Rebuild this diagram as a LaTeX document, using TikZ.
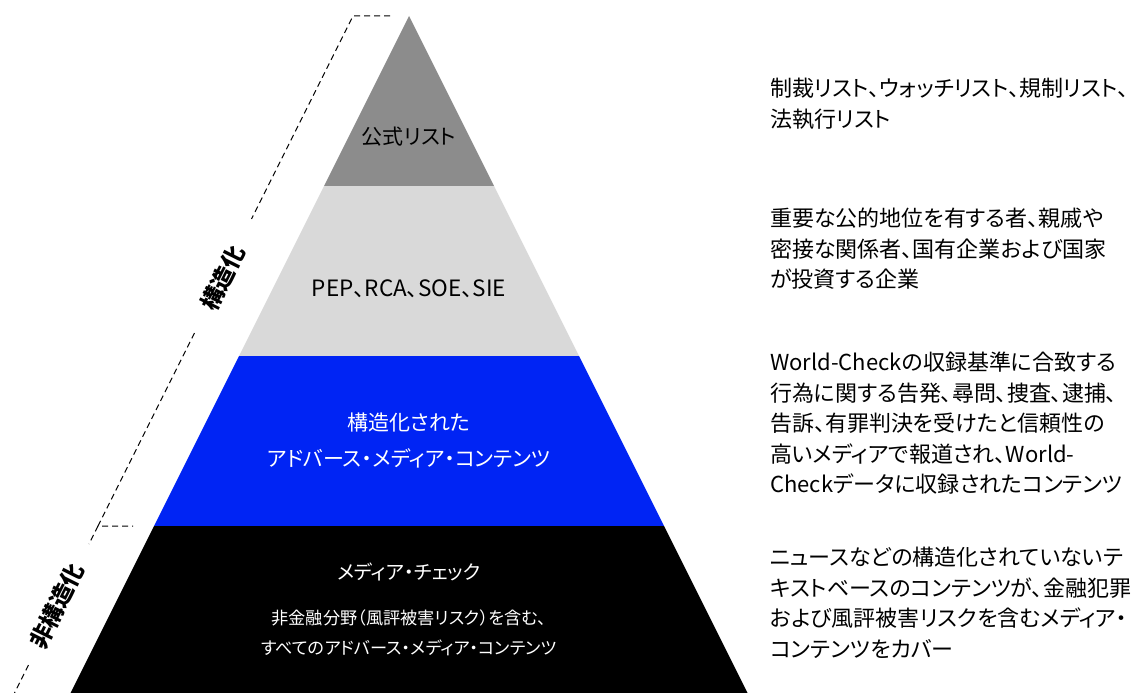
\documentclass[tikz,border=0pt]{standalone}
\usepackage{fontspec}
\setmainfont{Noto Sans CJK JP}[RawFeature={+palt}]
\definecolor{listgray}{HTML}{8C8C8C}
\definecolor{pepgray}{HTML}{D9D9D9}
\definecolor{mediablue}{HTML}{0024F4}
\begin{document}
\begin{tikzpicture}
  [x=1pt,y=-1pt,
   inner/.style={align=center,font=\fontsize{21}{36}\selectfont},
   note/.style={anchor=north west,align=left,inner sep=0pt,font=\fontsize{22}{30.5}\selectfont},
   guide/.style={line width=1pt,dash pattern=on 6pt off 4pt},
   tag/.style={font=\bfseries\fontsize{23}{26}\selectfont,rotate=63.43}]
  \useasboundingbox (0,0) rectangle (1141,693);
  % pyramid corners, level by level
  \foreach \i/\y in {0/16,1/186,2/356,3/526,4/693}{
    \coordinate (l\i) at ({409-0.5*(\y-16)},\y);
    \coordinate (r\i) at ({409+0.5*(\y-16)},\y);
  }
  \fill[listgray] (l0) -- (l1) -- (r1) -- cycle;
  \fill[pepgray] (l1) -- (l2) -- (r2) -- (r1) -- cycle;
  \fill[mediablue] (l2) -- (l3) -- (r3) -- (r2) -- cycle;
  \fill[black] (l3) -- (l4) -- (r4) -- (r3) -- cycle;
  % level texts
  \node[inner] (official) at (409,137) {公式リスト};
  \node[inner,font=\fontsize{22.5}{26}\selectfont] (pep) at (409,289) {PEP、RCA、SOE、SIE};
  \node[inner,text=white] (structured) at (409,440) {構造化された\\アドバース・メディア・コンテンツ};
  \node[inner,text=white,font=\fontsize{19.5}{24}\selectfont] (check) at (409,572) {メディア・チェック};
  \node[inner,text=white,font=\fontsize{17.2}{30.5}\selectfont] (nonfin) at (409,633)
    {非金融分野（風評被害リスク）を含む、\\すべてのアドバース・メディア・コンテンツ};
  % notes on the right
  \node[note] (officialnote) at (770,78) {制裁リスト、ウォッチリスト、規制リスト、\\法執行リスト};
  \node[note] (pepnote) at (770,208) {重要な公的地位を有する者、親戚や\\密接な関係者、国有企業および国家\\が投資する企業};
  \node[note] (structurednote) at (770,352) {World-Checkの収録基準に合致する\\行為に関する告発、尋問、捜査、逮捕、\\告訴、有罪判決を受けたと信頼性の\\高いメディアで報道され、World-\\Checkデータに収録されたコンテンツ};
  \node[note] (checknote) at (770,547) {ニュースなどの構造化されていないテ\\キストベースのコンテンツが、金融犯罪\\および風評被害リスクを含むメディア・\\コンテンツをカバー};
  % dashed guide on the left
  \coordinate (g0) at (390,16);
  \coordinate (g1) at (353,16);
  \coordinate (g2) at (251.5,219);
  \coordinate (g3) at (194.5,333);
  \coordinate (g4) at (98,526);
  \coordinate (g5) at (133,526);
  \coordinate (g6) at (89,544);
  \coordinate (g7) at (28.5,665);
  \coordinate (g8) at (14.5,693);
  \draw[guide] (g0) -- (g1) -- (g2);
  \draw[guide] (g3) -- (g4) -- (g5);
  \draw[guide] (g4) -- (g6);
  \draw[guide] (g7) -- (g8);
  \node[tag] (structuredtag) at (223,278) {構造化};
  \node[tag] (unstructuredtag) at (57,606) {非構造化};
\end{tikzpicture}
\end{document}
